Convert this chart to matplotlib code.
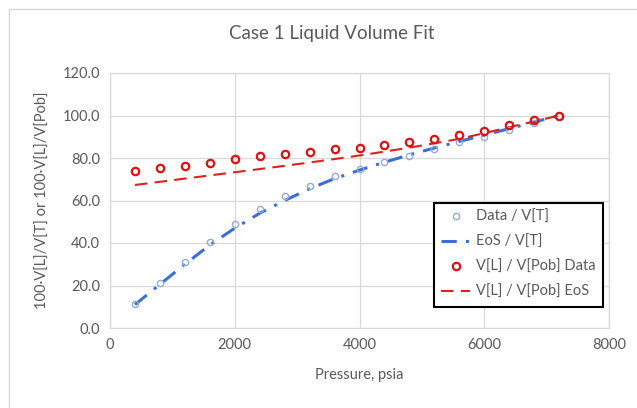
import matplotlib
matplotlib.use("Agg")
import matplotlib.pyplot as plt
from matplotlib.patches import Rectangle
from matplotlib.ticker import FormatStrFormatter

plt.rcParams['font.family'] = ['Lato', 'DejaVu Sans']

pressure = [400, 800, 1200, 1600, 2000, 2400, 2800, 3200, 3600, 4000,
            4400, 4800, 5200, 5600, 6000, 6400, 6800, 7200]
data_vt = [11.3, 21.1, 31.1, 40.4, 48.8, 56.1, 62.0, 66.7, 71.4, 74.9,
           78.0, 81.1, 84.3, 87.5, 90.1, 93.2, 96.6, 100.0]
eos_vt = [11.0, 20.5, 30.0, 39.0, 47.0, 54.0, 60.0, 65.5, 70.3, 74.3,
          78.0, 81.5, 84.7, 87.8, 90.8, 93.8, 96.9, 100.0]
data_vpob = [73.9, 75.2, 76.4, 77.7, 79.3, 80.8, 81.8, 82.7, 84.3, 84.9,
             86.2, 87.5, 89.0, 91.0, 92.6, 95.3, 98.0, 100.0]
eos_vpob = [67.3, 68.8, 70.3, 71.8, 73.3, 74.8, 76.3, 77.9, 79.5, 81.2,
            83.0, 84.9, 86.9, 89.0, 91.7, 94.5, 97.2, 100.0]

labels = ["Data / V[T]", "EoS / V[T]", "V[L] / V[Pob] Data", "V[L] / V[Pob] EoS"]

text_c = "#595959"
grid_c = "#d9d9d9"

fig = plt.figure(figsize=(6.37, 4.08), dpi=100)
fig.patch.set_facecolor("white")
# outer chart border (left/top visible)
fig.patches.append(Rectangle((9/637, -0.1), 1.2, 1 - 9/408 + 0.1, transform=fig.transFigure,
                             fill=False, edgecolor=grid_c, linewidth=1.0))

ax = fig.add_axes([110/637, 1 - 328/408, (609 - 110)/637, (328 - 73)/408])

ax.plot(pressure, data_vt, linestyle="none", marker="o", markersize=4.5,
        markerfacecolor="none", markeredgecolor="#8faadc", markeredgewidth=1.0,
        label=labels[0], zorder=3)
ax.plot(pressure, eos_vt, linestyle=(0, (5, 3, 1, 3)), color="#3c6fd6", linewidth=2.2,
        label=labels[1], zorder=2)
ax.plot(pressure, data_vpob, linestyle="none", marker="o", markersize=5.3,
        markerfacecolor="none", markeredgecolor="#e01010", markeredgewidth=1.6,
        label=labels[2], zorder=4)
ax.plot(pressure, eos_vpob, linestyle=(0, (6, 3.5)), color="#e02020", linewidth=1.5,
        label=labels[3], zorder=2)

ax.set_xlim(0, 8000)
ax.set_ylim(0, 120)
ax.set_xticks([0, 2000, 4000, 6000, 8000])
ax.set_yticks([0, 20, 40, 60, 80, 100, 120])
ax.yaxis.set_major_formatter(FormatStrFormatter("%.1f"))
ax.grid(True, color=grid_c, linewidth=0.9)
ax.set_axisbelow(True)
for s in ax.spines.values():
    s.set_color(grid_c)
    s.set_linewidth(0.9)
ax.tick_params(length=0, labelsize=10.5, colors=text_c, pad=7)

ax.set_xlabel("Pressure, psia", fontsize=10.5, color=text_c, labelpad=12)
ax.set_ylabel("100·V[L]/V[T] or 100·V[L]/V[Pob]", fontsize=10.5, color=text_c, labelpad=9)
fig.text(332/637, 1 - 33/408, "Case 1 Liquid Volume Fit", ha="center", va="center",
         fontsize=13.5, color=text_c)

leg = ax.legend(loc="upper left", bbox_to_anchor=((434 - 110)/499, (328 - 203)/255),
                borderaxespad=0, fontsize=10.5, frameon=True, fancybox=False,
                handlelength=2.0, handletextpad=0.4, labelspacing=0.75, borderpad=0.5)
for t in leg.get_texts():
    t.set_color(text_c)
leg.get_frame().set_edgecolor("black")
leg.get_frame().set_linewidth(1.5)
leg.get_frame().set_alpha(1)

fig.savefig("out.png", dpi=100, facecolor="white")
